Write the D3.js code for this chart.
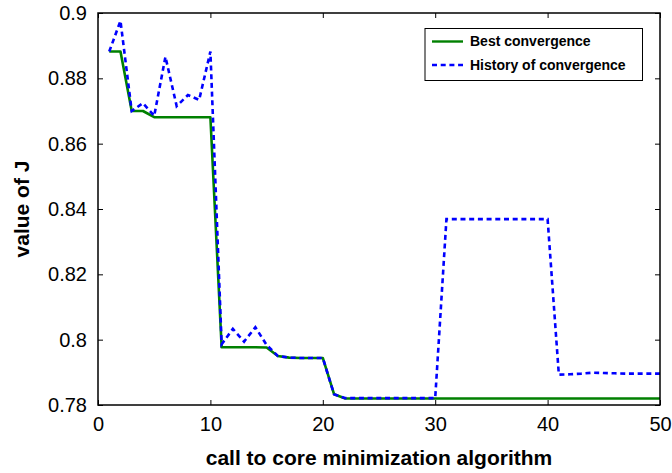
<!DOCTYPE html>
<html>
<head>
<meta charset="utf-8">
<script src="https://cdn.jsdelivr.net/npm/d3@7"></script>
<style>
  html, body { margin: 0; padding: 0; background: #fff; }
  svg { display: block; font-family: "Liberation Sans", Arial, Helvetica, sans-serif; }
</style>
</head>
<body>
<svg id="chart" width="672" height="473"></svg>
<script>
// Call index of the core minimizer
const calls = [1, 2, 3, 4, 5, 6, 7, 8, 9, 10,
  11, 12, 13, 14, 15, 16, 17, 18, 19, 20,
  21, 22, 23, 24, 25, 26, 27, 28, 29, 30,
  31, 32, 33, 34, 35, 36, 37, 38, 39, 40,
  41, 42, 43, 44, 45, 46, 47, 48, 49, 50];

// Best value of J found so far
const bestJ = [0.8882, 0.8882, 0.8700, 0.8700, 0.8681, 0.8681, 0.8681, 0.8681, 0.8681, 0.8681,
  0.7977, 0.7977, 0.7977, 0.7977, 0.7976, 0.7950, 0.7945, 0.7944, 0.7944, 0.7944,
  0.7833, 0.7820, 0.7820, 0.7820, 0.7820, 0.7820, 0.7820, 0.7820, 0.7820, 0.7820,
  0.7820, 0.7820, 0.7820, 0.7820, 0.7820, 0.7820, 0.7820, 0.7820, 0.7820, 0.7820,
  0.7820, 0.7820, 0.7820, 0.7820, 0.7820, 0.7820, 0.7820, 0.7820, 0.7820, 0.7820];

// Value of J returned by each call
const historyJ = [0.8882, 0.8976, 0.8700, 0.8724, 0.8685, 0.8866, 0.8715, 0.8749, 0.8734, 0.8882,
  0.7986, 0.8033, 0.7994, 0.8038, 0.7984, 0.7950, 0.7945, 0.7944, 0.7944, 0.7944,
  0.7833, 0.7821, 0.7821, 0.7821, 0.7821, 0.7821, 0.7821, 0.7821, 0.7821, 0.7821,
  0.8369, 0.8369, 0.8369, 0.8369, 0.8369, 0.8369, 0.8369, 0.8369, 0.8369, 0.8369,
  0.7893, 0.7894, 0.7896, 0.7899, 0.7898, 0.7897, 0.7896, 0.7896, 0.7896, 0.7896];

const xTicks = [0, 10, 20, 30, 40, 50];
const xTickLabels = ["0", "10", "20", "30", "40", "50"];
const yTicks = [0.78, 0.80, 0.82, 0.84, 0.86, 0.88, 0.90];
const yTickLabels = ["0.78", "0.8", "0.82", "0.84", "0.86", "0.88", "0.9"];

const seriesNames = ["Best convergence", "History of convergence"];

const svg = d3.select("#chart");
const plotLeft = 98, plotRight = 660, plotTop = 13, plotBottom = 405;

const x = d3.scaleLinear().domain([0, 50]).range([plotLeft, plotRight]);
const y = d3.scaleLinear().domain([0.78, 0.9]).range([plotBottom, plotTop]);

const tickFont = "20px";

// Axes with inward ticks
const gx = svg.append("g").attr("transform", `translate(0,${plotBottom})`)
  .call(d3.axisBottom(x).tickValues(xTicks).tickFormat((d, i) => xTickLabels[i])
    .tickSize(-5).tickPadding(12));
const gxTop = svg.append("g").attr("transform", `translate(0,${plotTop})`)
  .call(d3.axisTop(x).tickValues(xTicks).tickFormat("").tickSize(-5));
const gy = svg.append("g").attr("transform", `translate(${plotLeft},0)`)
  .call(d3.axisLeft(y).tickValues(yTicks).tickFormat((d, i) => yTickLabels[i])
    .tickSize(-5).tickPadding(11));
const gyRight = svg.append("g").attr("transform", `translate(${plotRight},0)`)
  .call(d3.axisRight(y).tickValues(yTicks).tickFormat("").tickSize(-5));

[gx, gxTop, gy, gyRight].forEach(g => {
  g.select(".domain").remove();
  g.selectAll(".tick line").attr("stroke", "#000").attr("stroke-width", 1);
  g.selectAll(".tick text").attr("fill", "#000").style("font-size", tickFont)
    .style("font-family", "'Liberation Sans', Arial, Helvetica, sans-serif");
});

// Lines
const line = (vals) => d3.line()
  .x((d, i) => x(calls[i]))
  .y(d => y(d))(vals);

svg.append("path")
  .attr("d", line(bestJ))
  .attr("fill", "none")
  .attr("stroke", "#008000")
  .attr("stroke-width", 2.6)
  .attr("stroke-linejoin", "round");

svg.append("path")
  .attr("d", line(historyJ))
  .attr("fill", "none")
  .attr("stroke", "#0000ff")
  .attr("stroke-width", 2.6)
  .attr("stroke-dasharray", "5,3.7");

// Plot frame
svg.append("rect")
  .attr("x", plotLeft).attr("y", plotTop)
  .attr("width", plotRight - plotLeft).attr("height", plotBottom - plotTop)
  .attr("fill", "none").attr("stroke", "#000").attr("stroke-width", 1.5);

// Axis titles
svg.append("text")
  .attr("x", (plotLeft + plotRight) / 2).attr("y", 465)
  .attr("text-anchor", "middle")
  .style("font-size", "21px").style("font-weight", "bold")
  .text("call to core minimization algorithm");

svg.append("text")
  .attr("transform", `translate(29,${(plotTop + plotBottom) / 2}) rotate(-90)`)
  .attr("text-anchor", "middle")
  .style("font-size", "21px").style("font-weight", "bold")
  .text("value of J");

// Legend
const lg = svg.append("g");
lg.append("rect")
  .attr("x", 425).attr("y", 28.5).attr("width", 217.5).attr("height", 52)
  .attr("fill", "#fff").attr("stroke", "#000").attr("stroke-width", 1);
const legendItems = [
  { name: seriesNames[0], color: "#008000", dash: null, yy: 41.5 },
  { name: seriesNames[1], color: "#0000ff", dash: "5,3.7", yy: 65 }
];
legendItems.forEach(it => {
  lg.append("line")
    .attr("x1", 432).attr("x2", 463).attr("y1", it.yy).attr("y2", it.yy)
    .attr("stroke", it.color).attr("stroke-width", 2.4)
    .attr("stroke-dasharray", it.dash);
  lg.append("text")
    .attr("x", 470).attr("y", it.yy).attr("dy", "0.35em")
    .style("font-size", "14px").style("font-weight", "bold")
    .text(it.name);
});
</script>
</body>
</html>
